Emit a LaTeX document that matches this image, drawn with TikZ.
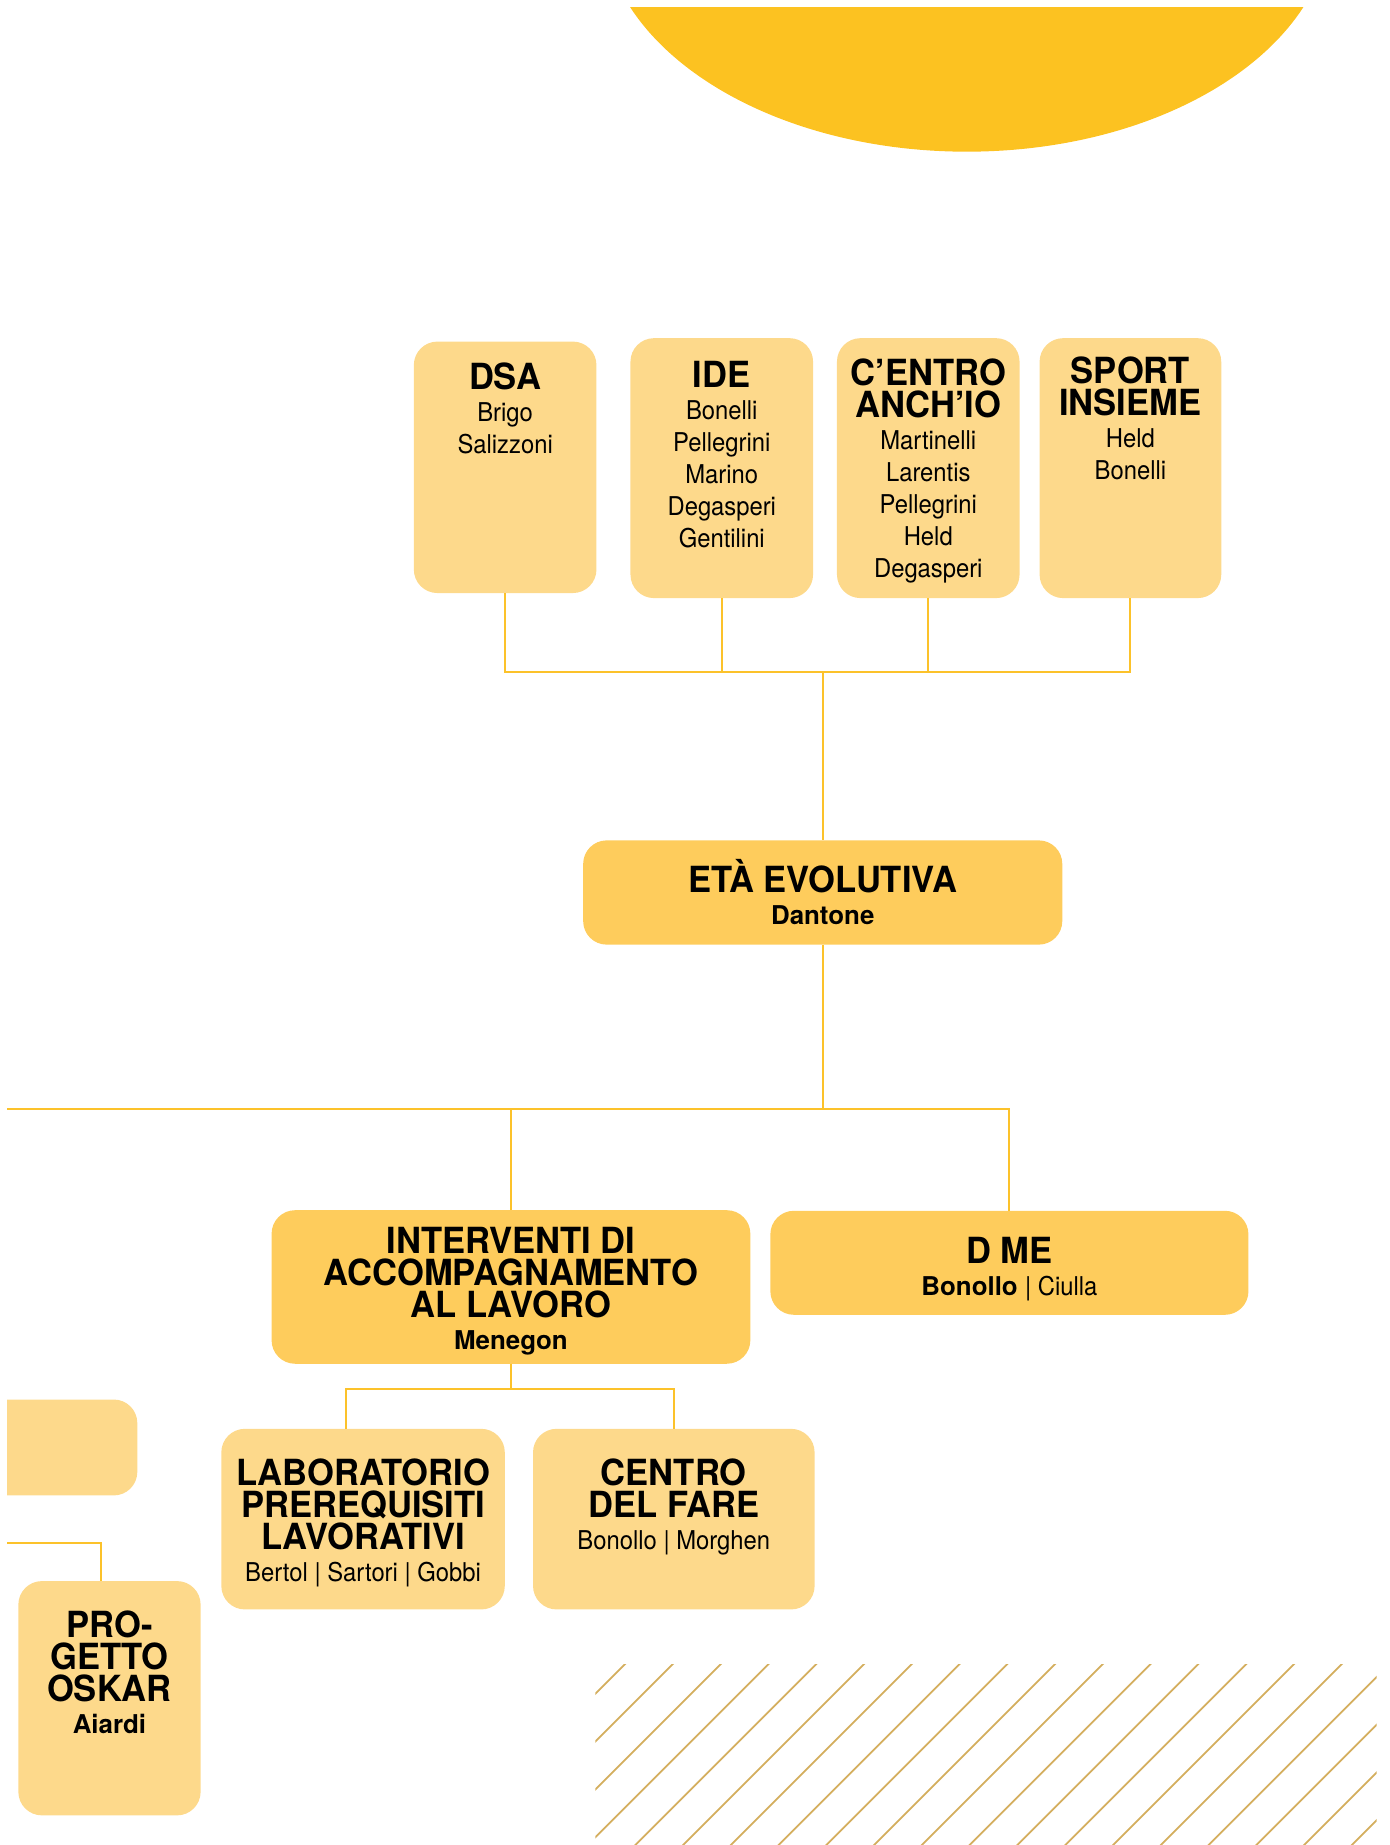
\documentclass[tikz,border=0pt]{standalone}
\usepackage{fontspec}
\setmainfont{TeX Gyre Heros}
\newfontfamily\ttlfont[FakeStretch=0.96]{TeX Gyre Heros}
\newfontfamily\nmfont[FakeStretch=0.92]{TeX Gyre Heros}
\definecolor{sunc}{HTML}{FCC221}
\definecolor{lightc}{HTML}{FDD98B}
\definecolor{darkc}{HTML}{FECC5C}
\definecolor{linkc}{HTML}{FCC22A}
\definecolor{hatchc}{HTML}{D4AE5E}
\tikzstyle{lightbox}=[fill=lightc, rounded corners=20pt, inner sep=0pt]
\tikzstyle{darkbox}=[fill=darkc, rounded corners=20pt, inner sep=0pt]
\tikzstyle{txt}=[anchor=north, inner sep=0pt, align=center, font=\fontsize{22}{27.2}\selectfont]
\tikzstyle{link}=[draw=linkc, line width=1.8pt]
\newcommand{\lbox}{\node[lightbox]}
\newcommand{\dbox}{\node[darkbox]}
\newcommand{\lbl}{\node[txt]}
\newcommand{\ttl}[1]{{\ttlfont\bfseries\fontsize{30.6}{27.2}\selectfont #1}}
\newcommand{\hd}[1]{\rule{0pt}{30pt}\ttl{#1}}
\newcommand{\nm}[1]{{\nmfont\fontsize{22}{27.2}\selectfont #1}}
\newcommand{\bnm}[1]{{\bfseries #1}}

\begin{document}
\begin{tikzpicture}[x=1pt, y=-1pt
  ,vh/.style={to path={|- (\tikztotarget)}}
  ,hv/.style={to path={-| (\tikztotarget)}}
]
\useasboundingbox (0,0) rectangle (1180.5,1568);
\begin{scope}
\clip (6,6.2) rectangle (1170,1568.5);
% sun and hatching
\fill[sunc] (821.6,-71.1) ellipse [x radius=310, y radius=200];
\begin{scope}
\clip (506,1415) rectangle (1170,1568.5);
\foreach \k in {0,...,19}
  \draw[hatchc, line width=1.5pt] ({1945.5+40.6*\k-1580},1580) -- ({1945.5+40.6*\k-1405},1405);
\end{scope}
% boxes
\lbox[minimum width=155.2pt, minimum height=213.7pt] (dsa) at (429.3,397.15) {};
\lbox[minimum width=155.2pt, minimum height=220.9pt] (ide) at (613.4,397.85) {};
\lbox[minimum width=155.2pt, minimum height=220.9pt] (centro) at (788.9,397.85) {};
\lbox[minimum width=154.4pt, minimum height=220.9pt] (sport) at (960.7,397.85) {};
\dbox[minimum width=407.2pt, minimum height=88.6pt] (eta) at (699.2,758.5) {};
\dbox[minimum width=406.9pt, minimum height=130.5pt] (interventi) at (434.25,1093.75) {};
\dbox[minimum width=406.3pt, minimum height=88.4pt] (dme) at (857.85,1073.2) {};
\lbox[minimum width=240.9pt, minimum height=153.5pt] (lab) at (308.55,1291.05) {};
\lbox[minimum width=239.3pt, minimum height=153.5pt] (fare) at (572.65,1291.05) {};
\lbox[minimum width=216.7pt, minimum height=81.5pt] (leftbox) at (8.35,1230.15) {};
\lbox[minimum width=154.9pt, minimum height=199.1pt] (oskar) at (93.05,1443.25) {};
% texts
\lbl (dsa-t) at (429.3,300.8) {\hd{DSA}\\\nm{Brigo}\\\nm{Salizzoni}};
\lbl (ide-t) at (613.4,299) {\hd{IDE}\\\nm{Bonelli}\\\nm{Pellegrini}\\\nm{Marino}\\\nm{Degasperi}\\\nm{Gentilini}};
\lbl (centro-t) at (788.9,297) {\hd{C’ENTRO}\\\ttl{ANCH’IO}\\\nm{Martinelli}\\\nm{Larentis}\\\nm{Pellegrini}\\\nm{Held}\\\nm{Degasperi}};
\lbl (sport-t) at (960.7,295.7) {\hd{SPORT}\\\ttl{INSIEME}\\\nm{Held}\\\nm{Bonelli}};
\lbl (eta-t) at (699.2,728) {\hd{ETÀ EVOLUTIVA}\\\bnm{Dantone}};
\lbl (interventi-t) at (434.25,1034.8) {\hd{INTERVENTI DI}\\\ttl{ACCOMPAGNAMENTO}\\\ttl{AL LAVORO}\\\bnm{Menegon}};
\lbl (dme-t) at (857.85,1043.8) {\hd{D ME}\\\bnm{Bonollo} \nm{| Ciulla}};
\lbl (lab-t) at (308.55,1232.2) {\hd{LABORATORIO}\\\ttl{PREREQUISITI}\\\ttl{LAVORATIVI}\\\nm{Bertol | Sartori | Gobbi}};
\lbl (fare-t) at (572.65,1232.2) {\hd{CENTRO}\\\ttl{DEL FARE}\\\nm{Bonollo | Morghen}};
\lbl (oskar-t) at (93.05,1361.8) {\hd{PRO-}\\\ttl{GETTO}\\\ttl{OSKAR}\\\bnm{Aiardi}};
% connectors
\coordinate (topbus) at (699.2,571.2);
\coordinate (midbus) at (699.2,942.4);
\coordinate (leftend) at (0,942.4);
\coordinate (lowbus) at (434.25,1180.3);
\coordinate (oskarend) at (0,1311.4);
\path[link]
(dsa.south) edge[vh] (topbus)
(ide.south) edge[vh] (topbus)
(centro.south) edge[vh] (topbus)
(sport.south) edge[vh] (topbus)
(topbus) edge (eta.north)
(eta.south) edge (midbus)
(midbus) edge (leftend)
(midbus) edge[hv] (interventi.north)
(midbus) edge[hv] (dme.north)
(interventi.south) edge (lowbus)
(lowbus) edge[hv] ([xshift=-14.5pt]lab.north)
(lowbus) edge[hv] (fare.north)
(oskarend) edge[hv] ([xshift=-7.5pt]oskar.north)
;
\end{scope}
\end{tikzpicture}
\end{document}
